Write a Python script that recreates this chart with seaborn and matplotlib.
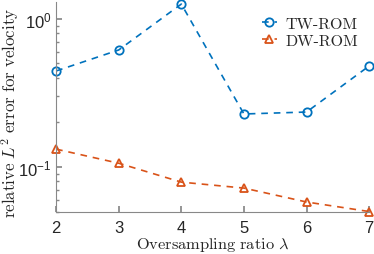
import matplotlib
matplotlib.use("Agg")
import matplotlib.pyplot as plt
from matplotlib.legend_handler import HandlerLine2D
import seaborn as sns
import pandas as pd

ratio = [2, 3, 4, 5, 6, 7]
tw_rom = [0.445, 0.617, 1.26, 0.228, 0.235, 0.481]
dw_rom = [0.132, 0.106, 0.079, 0.072, 0.058, 0.050]

sns.set_theme(style="ticks")
plt.rcParams["font.family"] = ["Liberation Sans", "DejaVu Sans"]
plt.rcParams["mathtext.fontset"] = "cm"


class EndMarkerHandler(HandlerLine2D):
    # marker sits at the right end of the legend line, like MATLAB
    def get_xdata(self, legend, xdescent, ydescent, width, height, fontsize):
        xdata = [-xdescent, -xdescent + width]
        return xdata, [-xdescent + 0.85 * width]


df = pd.DataFrame({
    "ratio": ratio * 2,
    "error": tw_rom + dw_rom,
    "method": ["TW-ROM"] * len(ratio) + ["DW-ROM"] * len(ratio),
})

fig = plt.figure(figsize=(3.74, 2.55), dpi=100)
ax = fig.add_axes([0.150, 0.165, 0.837, 0.823])

colors = {"TW-ROM": "#0072BD", "DW-ROM": "#D95319"}
markers = {"TW-ROM": "o", "DW-ROM": "^"}
for name in ["TW-ROM", "DW-ROM"]:
    sub = df[df["method"] == name]
    sns.lineplot(data=sub, x="ratio", y="error", ax=ax, color=colors[name],
                 linestyle=(0, (4, 3.5)), linewidth=1.2, marker=markers[name],
                 markersize=6, markerfacecolor="none", markeredgecolor=colors[name],
                 markeredgewidth=1.3, label=name, clip_on=False)

ax.set_yscale("log")
ax.set_xlim(2, 7)
ax.set_ylim(0.0497, 1.30)
ax.set_xticks(ratio)

for s in ["top", "right"]:
    ax.spines[s].set_visible(False)
for s in ["left", "bottom"]:
    ax.spines[s].set_color("#888888")
    ax.spines[s].set_linewidth(0.8)

ax.tick_params(which="both", direction="in", colors="#888888", labelcolor="#262626",
               labelsize=12)
ax.tick_params(which="major", length=4)
ax.tick_params(which="minor", length=2)
ax.tick_params(axis="x", pad=6)

ax.set_xlabel(r"$\mathrm{Oversampling\ ratio}\ \lambda$", fontsize=11.8, color="#262626")
ax.set_ylabel(r"$\mathrm{relative}\ L^2\ \mathrm{error\ for\ velocity}$", fontsize=12.2,
              color="#262626")
ax.xaxis.set_label_coords(0.5, -0.108)
ax.yaxis.set_label_coords(-0.112, 0.476)

handles, labels = ax.get_legend_handles_labels()
leg = ax.legend(handles, labels, loc="upper right", frameon=False, handlelength=0.9,
                handletextpad=0.55, labelspacing=0.15, borderpad=0, borderaxespad=0,
                prop={"family": "cmr10", "size": 11.5}, bbox_to_anchor=(0.965, 0.93),
                handler_map={h: EndMarkerHandler(numpoints=1) for h in handles})
for t in leg.get_texts():
    t.set_color("#262626")

fig.savefig("out.png", dpi=100)
plt.close(fig)
